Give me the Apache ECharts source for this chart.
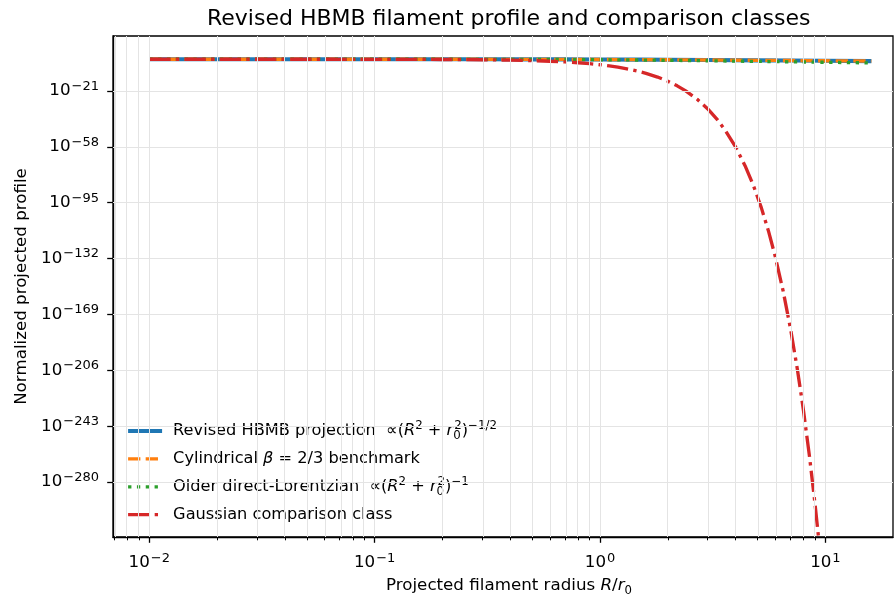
<!DOCTYPE html>
<html><head><meta charset="utf-8">
<script src="https://cdn.jsdelivr.net/npm/echarts@6/dist/echarts.min.js"></script>
<style>html,body{margin:0;padding:0;background:#fff}#c{width:895px;height:598px}</style>
</head><body><div id="c"></div>
<script>
// ---- data ----
const radiusPower = [0.01, 0.02, 0.05, 0.1, 0.2, 0.3, 0.5, 0.7, 1, 1.5, 2, 3, 5, 7, 10, 16];
const revisedHBMB = [1.0, 0.9998, 0.9988, 0.995, 0.981, 0.958, 0.894, 0.819, 0.707, 0.555, 0.447, 0.316, 0.196, 0.141, 0.0995, 0.0624];
const cylindricalBeta = [1.0, 0.9998, 0.9988, 0.995, 0.981, 0.958, 0.894, 0.819, 0.707, 0.555, 0.447, 0.316, 0.196, 0.141, 0.0995, 0.0624];
const olderLorentzian = [0.9999, 0.9996, 0.9975, 0.990, 0.962, 0.917, 0.8, 0.671, 0.5, 0.308, 0.2, 0.1, 0.0385, 0.02, 0.0099, 0.0039];
const radiusGauss = [0.01, 0.05, 0.1, 0.15, 0.2, 0.25, 0.3, 0.35, 0.4, 0.45, 0.5, 0.6, 0.7, 0.8, 0.9, 1.0, 1.1, 1.2, 1.3, 1.4, 1.5, 1.6, 1.8, 2.0, 2.2, 2.4, 2.7, 3.0, 3.3, 3.6, 4.0, 4.4, 4.8, 5.2, 5.6, 6.0, 6.5, 7.0, 7.5, 8.0, 8.5, 9.0, 9.4];
const gaussianClass = [0.9992, 0.979, 0.920, 0.828, 0.715, 0.592, 0.470, 0.358, 0.262, 0.183, 0.123, 0.0489, 0.01646, 0.00468, 0.001126, 2.29e-4, 3.94e-5, 5.73e-6, 7.05e-7, 7.34e-8, 6.46e-9, 4.80e-10, 1.61e-12, 2.75e-15, 2.41e-18, 1.08e-21, 2.91e-27, 1.74e-33, 2.29e-40, 6.69e-48, 5.75e-59, 3.38e-71, 1.36e-84, 3.75e-99, 7.07e-115, 9.12e-132, 1.62e-154, 4.37e-179, 1.78e-205, 1.10e-233, 1.02e-263, 1.45e-295, 2.3e-322];
const xMajorTicks = [0.01, 0.1, 1, 10];
const xMinorTicks = [0.007, 0.008, 0.009, 0.02, 0.03, 0.04, 0.05, 0.06, 0.07, 0.08, 0.09, 0.2, 0.3, 0.4, 0.5, 0.6, 0.7, 0.8, 0.9, 2, 3, 4, 5, 6, 7, 8, 9];
const yTickExponents = [-280, -243, -206, -169, -132, -95, -58, -21];
const seriesNames = [
  'Revised HBMB projection ∝(R^2+r0^2)^-1/2',
  'Cylindrical β=2/3 benchmark',
  'Older direct-Lorentzian ∝(R^2+r0^2)^-1',
  'Gaussian comparison class'
];
const xRange = [-2.161, 1.30];   // log10 extent of the x axis
const yRange = [-316.4, 15.4];   // log10 extent of the y axis

// ---- chart ----
const FONT = 'DejaVu Sans';
const LOG = Math.log10;
const pts = (xs, ys) => xs.map((x, i) => [LOG(x), LOG(ys[i])]);
const expLabel = v => {
  const n = Math.round(v);
  const s = n < 0 ? '\u2212' + (-n) : String(n);
  return '{b|10}{s|' + s + '}';
};
const tickRich = {
  b: {fontFamily: FONT, fontSize: 16.7, lineHeight: 22, color: '#000'},
  s: {fontFamily: FONT, fontSize: 13, lineHeight: 13, verticalAlign: 'top', color: '#000', padding: [0, 0, 0, 1]}
};
const legendRich = {
  g: {fontFamily: FONT, fontSize: 16.2, lineHeight: 22, width: 6},
  t: {fontFamily: FONT, fontSize: 16.2, lineHeight: 22, color: '#000'},
  i: {fontFamily: FONT, fontSize: 16.2, lineHeight: 22, fontStyle: 'italic', color: '#000'},
  sp: {fontFamily: FONT, fontSize: 11.8, lineHeight: 12, verticalAlign: 'top', color: '#000'},
  sb0: {fontFamily: FONT, fontSize: 11.8, lineHeight: 12, verticalAlign: 'bottom', color: '#000', width: 1}
};
const legendText = {};
legendText[seriesNames[0]] = '{g| }{t|Revised HBMB projection  \u221d(}{i|R}{sp|2}{t| + }{i|r}{sb0|0}{sp|2}{t|)}{sp|\u22121/2}';
legendText[seriesNames[1]] = '{g| }{t|Cylindrical }{i|\u03b2}{t| = 2/3 benchmark}';
legendText[seriesNames[2]] = '{g| }{t|Older direct-Lorentzian  \u221d(}{i|R}{sp|2}{t| + }{i|r}{sb0|0}{sp|2}{t|)}{sp|\u22121}';
legendText[seriesNames[3]] = '{g| }{t|Gaussian comparison class}';

const gridLines = xMajorTicks.concat(xMinorTicks).map(v => ({xAxis: LOG(v)}))
  .concat(yTickExponents.map(v => ({yAxis: v})));

const seriesColors = ['#1f77b4', '#ff7f0e', '#2ca02c', '#d62728'];
const seriesWidths = [4.17, 3.33, 3.33, 3.33];
const seriesDashes = ['solid', [12.3, 5.3], [3.33, 5.5], [21.3, 5.3, 3.33, 5.3]];
const seriesData = [
  pts(radiusPower, revisedHBMB),
  pts(radiusPower, cylindricalBeta),
  pts(radiusPower, olderLorentzian),
  pts(radiusGauss, gaussianClass)
];

const chart = echarts.init(document.getElementById('c'), null, {renderer: 'canvas'});
chart.setOption({
  animation: false,
  backgroundColor: '#fff',
  textStyle: {fontFamily: FONT},
  title: {
    text: 'Revised HBMB filament profile and comparison classes',
    left: 202, top: 1,
    textStyle: {fontFamily: FONT, fontSize: 22, fontWeight: 'normal', color: '#000', lineHeight: 26}
  },
  grid: [
    {left: 113, right: 2, top: 36, bottom: 61, containLabel: false, outerBoundsMode: 'none',
     show: true, borderColor: '#000', borderWidth: 1.3, backgroundColor: 'transparent'},
    {left: 113, right: 2, top: 36, bottom: 61, containLabel: false, outerBoundsMode: 'none', show: false}
  ],
  legend: {
    orient: 'vertical', left: 126, top: 420, padding: 0,
    itemWidth: 34, itemHeight: 14, itemGap: 8.9,
    selectedMode: false,
    data: seriesNames.map((n, i) => ({
      name: n,
      itemStyle: {opacity: 0},
      lineStyle: {width: seriesWidths[i], color: seriesColors[i], type: seriesDashes[i], opacity: 1}
    })),
    formatter: n => legendText[n],
    textStyle: {fontFamily: FONT, fontSize: 16.2, color: '#000', rich: legendRich}
  },
  xAxis: [
    {
      type: 'value', gridIndex: 0, min: xRange[0], max: xRange[1],
      name: '{g| }{t|Projected filament radius }{i|R}{t|/}{i|r}{sb|0}',
      nameLocation: 'middle', nameGap: 38,
      nameTextStyle: {rich: {
        g: {fontFamily: FONT, fontSize: 16.7, lineHeight: 22, width: 12},
        t: {fontFamily: FONT, fontSize: 16.7, lineHeight: 22, color: '#000'},
        i: {fontFamily: FONT, fontSize: 16.7, lineHeight: 22, fontStyle: 'italic', color: '#000'},
        sb: {fontFamily: FONT, fontSize: 11.7, lineHeight: 12, verticalAlign: 'bottom', color: '#000'}
      }},
      axisLine: {show: true, onZero: false, lineStyle: {color: '#000', width: 1.3}},
      axisTick: {show: true, customValues: xMajorTicks.map(LOG), length: 5.8, lineStyle: {color: '#000', width: 1.3}},
      axisLabel: {customValues: xMajorTicks.map(LOG), formatter: expLabel, margin: 15, rich: tickRich},
      splitLine: {show: false}
    },
    {
      type: 'value', gridIndex: 1, min: xRange[0], max: xRange[1],
      axisLine: {show: false, onZero: false},
      axisTick: {show: true, customValues: xMinorTicks.map(LOG), length: 3.3, lineStyle: {color: '#000', width: 1}},
      axisLabel: {show: false},
      splitLine: {show: false}
    }
  ],
  yAxis: [
    {
      type: 'value', gridIndex: 0, min: yRange[0], max: yRange[1],
      name: 'Normalized projected profile', nameLocation: 'middle', nameGap: 80,
      nameTextStyle: {fontFamily: FONT, fontSize: 16.7, color: '#000'},
      axisLine: {show: true, onZero: false, lineStyle: {color: '#000', width: 1.3}},
      axisTick: {show: true, customValues: yTickExponents, length: 5.8, lineStyle: {color: '#000', width: 1.3}},
      axisLabel: {customValues: yTickExponents, formatter: expLabel, margin: 14, rich: tickRich},
      splitLine: {show: false}
    },
    {type: 'value', gridIndex: 1, min: yRange[0], max: yRange[1], show: false, axisLine: {onZero: false}}
  ],
  series: [
    {
      name: '__grid', type: 'line', xAxisIndex: 0, yAxisIndex: 0, data: [], z: 1, silent: true,
      markLine: {
        silent: true, symbol: ['none', 'none'], label: {show: false}, animation: false,
        lineStyle: {color: '#e4e4e4', width: 1, type: 'solid'},
        emphasis: {disabled: true},
        data: gridLines
      }
    }
  ].concat(seriesNames.map((n, i) => ({
    name: n, type: 'line', data: seriesData[i],
    symbol: 'none', z: 2, color: seriesColors[i],
    lineStyle: {color: seriesColors[i], width: seriesWidths[i], type: seriesDashes[i]}
  })))
});
</script>
</body></html>
